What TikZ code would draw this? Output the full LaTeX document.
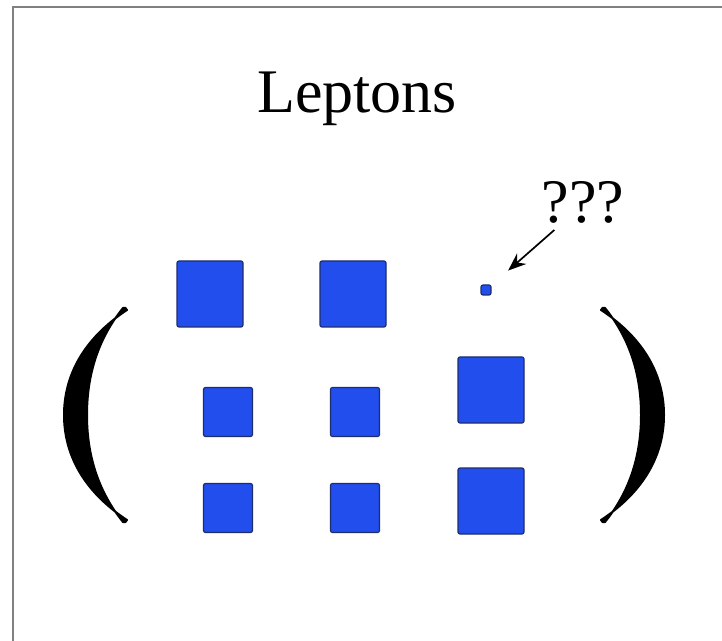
\documentclass[tikz,border=0pt]{standalone}
\usepackage{fontspec}
\setmainfont{Liberation Serif}
\usetikzlibrary{arrows.meta, positioning}
\definecolor{lepblue}{RGB}{33,78,236}
\definecolor{lepedge}{RGB}{30,45,110}

\newcommand\parenpath{(127,310) .. controls (83,339) and (64,376) .. (64,415)
  .. controls (64,454) and (83,491) .. (127,520)
  .. controls (126,522) and (125,523) .. (123,522)
  .. controls (98,491) and (87,455) .. (87,415)
  .. controls (87,375) and (98,339) .. (123,308)
  .. controls (125,307) and (126,308) .. cycle}

\begin{document}
\begin{tikzpicture}[x=0.5pt, y=-0.5pt, >={Stealth[length=9pt, width=7pt]},
  sq/.style={rectangle, draw=lepedge, line width=0.6pt, fill=lepblue, rounded corners=1pt, inner sep=0pt, minimum size=#1},
  sq/.default=33pt,
  lbl/.style={font=\fontsize{31}{36}\selectfont, inner sep=0pt},
  paren/.style={fill=black, draw=black, line width=1pt, line join=round}]
  \useasboundingbox (0,0) rectangle (722,641);
  \draw[gray, line width=1.2pt] (722,7) -| (13,641);

  \node[lbl, anchor=base] (title) at (357,113) {Leptons};
  \node[lbl, anchor=base] (q) at (583,223) {???};

  \node[sq] (e) at (210,294) {};
  \node[sq] (mu) at (353,294) {};
  \node[sq=5pt] (tau) at (486,290) {};
  \node[sq=24.5pt] (e2) at (228,412) {};
  \node[sq=24.5pt] (mu2) at (355,412) {};
  \node[sq] (tau2) at (491,390) {};
  \node[sq=24.5pt] (e3) at (228,508) {};
  \node[sq=24.5pt] (mu3) at (355,508) {};
  \node[sq] (tau3) at (491,501) {};

  \draw[->, line width=0.85pt, shorten >=11pt] ([shift={(13,7)}]q.base west) -- (tau);

  \path[paren] \parenpath;
  \begin{scope}[xshift=364pt, xscale=-1]
    \path[paren] \parenpath;
  \end{scope}
\end{tikzpicture}
\end{document}
